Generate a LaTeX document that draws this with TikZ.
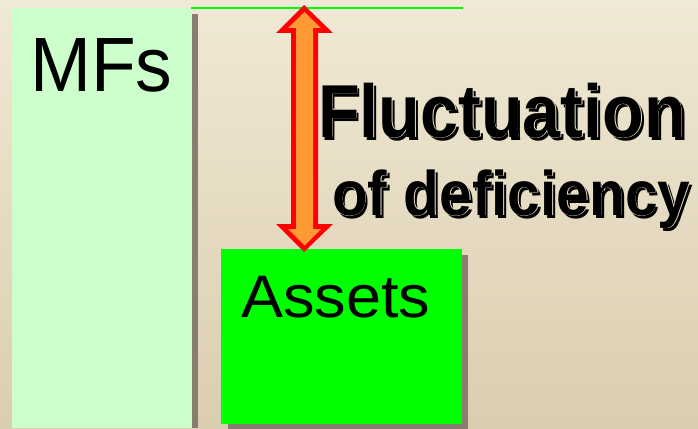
\documentclass[tikz,border=0pt]{standalone}
\usepackage{fontspec}
\setmainfont{Liberation Sans}
\definecolor{bgtop}{RGB}{240,233,213}
\definecolor{bgbot}{RGB}{219,205,175}
\definecolor{mfgreen}{RGB}{204,255,204}
\definecolor{asgreen}{RGB}{0,255,0}
\definecolor{shadowgray}{RGB}{135,126,112}
\definecolor{arrred}{RGB}{255,0,0}
\definecolor{arrorange}{RGB}{255,153,51}
\definecolor{halo}{RGB}{232,224,200}
\newcommand{\fancytext}[4]{%
  \node[#2,text=black,xshift=3pt,yshift=-3pt] at (#3) {#4};
  \foreach \hx/\hy in {-0.7/0,0.7/0,0/-0.7,0/0.7}
    {\node[#2,text=halo,xshift=\hx pt,yshift=\hy pt] at (#3) {#4};}
  \node[#2,text=black] (#1) at (#3) {#4};
}
\begin{document}
\begin{tikzpicture}[x=1pt,y=-1pt,
  shadowbox/.style={fill=shadowgray,draw=none},
  mfbox/.style={fill=mfgreen,draw=none},
  assetbox/.style={fill=asgreen,draw=none},
  plain/.style={anchor=base west,inner sep=0pt},
  fluctfont/.style={anchor=base west,inner sep=0pt,font=\fontsize{75}{80}\selectfont\bfseries,xscale=0.91},
  deficfont/.style={anchor=base west,inner sep=0pt,font=\fontsize{63}{70}\selectfont\bfseries,xscale=0.93}]
\useasboundingbox (0,0) rectangle (698,428);
\shade[top color=bgtop,bottom color=bgbot] (0,0) rectangle (698,428);
% MFs column
\fill[shadowbox] (192,14) rectangle (198,428);
\fill[mfbox] (12,8) rectangle (192,428);
\node[plain,font=\fontsize{77}{82}\selectfont,xscale=0.95] (mfs) at (30,91) {MFs};
% top green line
\coordinate (lineL) at (191,8);
\coordinate (lineR) at (463,8);
\draw[asgreen,line width=1.6pt] (lineL) -- (lineR);
% Assets box
\fill[shadowbox] (228,255) rectangle (468,430);
\fill[assetbox] (221,249) rectangle (462,424);
\node[plain,font=\fontsize{60}{66}\selectfont,xscale=1.05] (assets) at (241,317) {Assets};
% double arrow
\fill[arrred] (304,5) -- (333,33) -- (318,33) -- (318,224) -- (333,224) -- (304,252)
  -- (276,224) -- (291,224) -- (291,33) -- (276,33) -- cycle;
\fill[arrorange] (304.5,12) -- (321,28) -- (313,28) -- (313,229) -- (321,229) -- (304.5,245.5)
  -- (288,229) -- (296,229) -- (296,28) -- (288,28) -- cycle;
% label
\fancytext{fluct}{fluctfont}{318,137}{Fluctuation}
\fancytext{defic}{deficfont}{332,215}{of deficiency}
\end{tikzpicture}
\end{document}
